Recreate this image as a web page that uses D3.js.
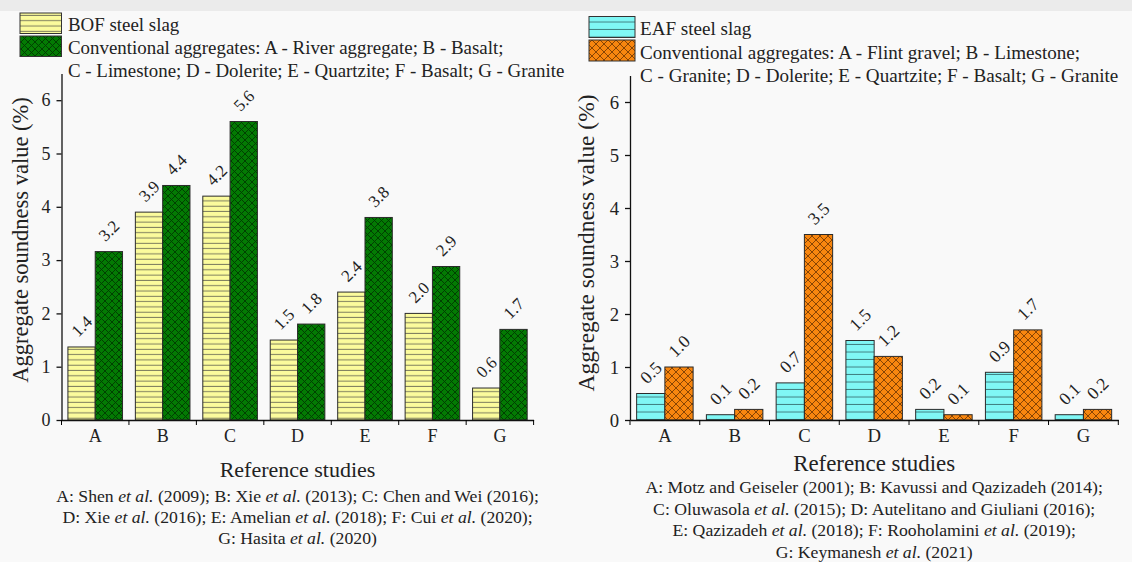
<!DOCTYPE html>
<html>
<head>
<meta charset="utf-8">
<script src="https://cdn.jsdelivr.net/npm/d3@7"></script>
<style>
  body { margin: 0; background: #f9f9f9; }
  svg { display: block; font-family: "Liberation Serif", "Times New Roman", serif; }
</style>
</head>
<body>
<script>
// data
var categories = ["A", "B", "C", "D", "E", "F", "G"];
var yTicks = [0, 1, 2, 3, 4, 5, 6];

var bofSlag = [1.37, 3.9, 4.2, 1.5, 2.4, 2.0, 0.6];
var bofConventional = [3.16, 4.4, 5.6, 1.8, 3.8, 2.88, 1.7];
var eafSlag = [0.5, 0.1, 0.7, 1.5, 0.2, 0.9, 0.1];
var eafConventional = [1.0, 0.2, 3.5, 1.2, 0.1, 1.7, 0.2];

var bofLegend = ["BOF steel slag",
  "Conventional aggregates: A - River aggregate; B - Basalt;",
  "C - Limestone; D - Dolerite; E - Quartzite; F - Basalt; G - Granite"];
var eafLegend = ["EAF steel slag",
  "Conventional aggregates: A - Flint gravel; B - Limestone;",
  "C - Granite; D - Dolerite; E - Quartzite; F - Basalt; G - Granite"];

// *...* = italic
var bofRefs = ["A: Shen *et al.* (2009); B: Xie *et al.* (2013); C: Chen and Wei (2016);",
  "D: Xie *et al.* (2016); E: Amelian *et al.* (2018); F: Cui *et al.* (2020);",
  "G: Hasita *et al.* (2020)"];
var eafRefs = ["A: Motz and Geiseler (2001); B: Kavussi and Qazizadeh (2014);",
  "C: Oluwasola *et al.* (2015); D: Autelitano and Giuliani (2016);",
  "E: Qazizadeh *et al.* (2018); F: Rooholamini *et al.* (2019);",
  "G: Keymanesh *et al.* (2021)"];

var yTitle = "Aggregate soundness value (%)";
var xTitle = "Reference studies";

var width = 1132,
    height = 562;

var svg = d3.select("body").append("svg")
    .attr("width", width)
    .attr("height", height);

svg.append("rect").attr("width", width).attr("height", height).attr("fill", "#f9f9f9");
svg.append("rect").attr("width", width).attr("height", 11).attr("fill", "#ebebeb");

// hatch patterns
var defs = svg.append("defs");

function hLines(id, fill, line, step) {
  var p = defs.append("pattern").attr("id", id)
      .attr("patternUnits", "userSpaceOnUse")
      .attr("width", 10).attr("height", step);
  p.append("rect").attr("width", 10).attr("height", step).attr("fill", fill);
  p.append("line").attr("x1", 0).attr("x2", 10).attr("y1", step - 0.5).attr("y2", step - 0.5)
      .attr("stroke", line).attr("stroke-width", 1);
}
function crossHatch(id, fill, line, step) {
  var p = defs.append("pattern").attr("id", id)
      .attr("patternUnits", "userSpaceOnUse")
      .attr("width", step).attr("height", step);
  p.append("rect").attr("width", step).attr("height", step).attr("fill", fill);
  p.append("path").attr("d", "M0,0L" + step + "," + step + "M" + step + ",0L0," + step)
      .attr("stroke", line).attr("stroke-width", 0.9);
}
hLines("yellowH", "#fbfb9c", "#7d7d5e", 5.3);
crossHatch("greenX", "#037a03", "#013a01", 7);
hLines("cyanH", "#80f7f5", "#3f7f80", 7.5);
crossHatch("orangeX", "#f8860f", "#7a3c02", 8);

function drawPanel(p) {
  var g = svg.append("g");
  var fs = p.fs;

  var x = d3.scaleBand().domain(categories).range([p.left, p.right]).padding(0);
  var x1 = d3.scaleBand().domain([0, 1]).range([0, x.bandwidth()])
      .paddingInner(0).paddingOuter(0.235);
  var y = d3.scaleLinear().domain([0, 6.5]).range([p.base, p.base - 6.5 * p.unit]);

  var series = [p.slag, p.conv];
  var fills = [p.fillSlag, p.fillConv];
  var fmt = d3.format(".1f");

  series.forEach(function (vals, s) {
    g.selectAll(null).data(vals).join("rect")
        .attr("x", (d, i) => x(categories[i]) + x1(s))
        .attr("y", d => y(d))
        .attr("width", x1.bandwidth())
        .attr("height", d => y(0) - y(d))
        .attr("fill", "url(#" + fills[s] + ")")
        .attr("stroke", "#2b2b2b")
        .attr("stroke-width", 1);

    g.selectAll(null).data(vals).join("text")
        .attr("transform", (d, i) => "translate(" + (x(categories[i]) + x1(s) + x1.bandwidth() / 2) +
            "," + (y(d) - 21) + ") rotate(-45)")
        .attr("text-anchor", "middle")
        .attr("dy", "0.35em")
        .attr("font-size", 17 * fs)
        .attr("fill", "#222")
        .text(d => fmt(d));
  });

  // y axis
  var yAxis = g.append("g")
      .attr("transform", "translate(" + p.left + ",0)")
      .call(d3.axisLeft(y).tickValues(yTicks).tickFormat(d3.format("d"))
          .tickSize(5).tickSizeOuter(0).tickPadding(6));
  yAxis.attr("font-family", null).attr("font-size", null);
  yAxis.selectAll("text").attr("font-size", 18 * fs).attr("fill", "#222");

  // x axis: labels centred, ticks on band edges
  var xAxis = g.append("g")
      .attr("transform", "translate(0," + p.base + ")")
      .call(d3.axisBottom(x).tickSize(0).tickSizeOuter(0).tickPadding(9));
  xAxis.attr("font-family", null).attr("font-size", null);
  xAxis.selectAll("text").attr("font-size", 18 * fs).attr("fill", "#222");
  var edges = categories.map(c => x(c)).concat([p.right]);
  xAxis.selectAll(".edge").data(edges).join("line")
      .attr("x1", d => d).attr("x2", d => d)
      .attr("y1", 0).attr("y2", 5)
      .attr("stroke", "#000");

  g.selectAll(".domain, .tick line").attr("stroke", "#111").attr("stroke-width", 1.3);

  // titles
  g.append("text")
      .attr("transform", "translate(" + p.yTitleX + "," + p.yTitleY + ") rotate(-90)")
      .attr("text-anchor", "middle")
      .attr("font-size", 22.5 * fs)
      .attr("fill", "#222")
      .text(yTitle);

  var mid = (p.left + p.right) / 2;
  g.append("text")
      .attr("x", mid).attr("y", p.xTitleY)
      .attr("text-anchor", "middle")
      .attr("font-size", 22 * fs)
      .attr("fill", "#222")
      .text(xTitle);

  g.selectAll(".ref").data(p.refs).join("text")
      .attr("x", mid)
      .attr("y", (d, i) => p.refY + i * p.refStep)
      .attr("text-anchor", "middle")
      .attr("font-size", p.refSize)
      .attr("fill", "#222")
      .each(function (d) {
        var t = d3.select(this);
        d.split("*").forEach(function (part, k) {
          t.append("tspan").attr("font-style", k % 2 ? "italic" : null).text(part);
        });
      });

  // legend
  [p.fillSlag, p.fillConv].forEach(function (f, i) {
    g.append("rect")
        .attr("x", p.legX).attr("y", p.legY + i * p.legStep)
        .attr("width", p.swW).attr("height", p.swH)
        .attr("fill", "url(#" + f + ")")
        .attr("stroke", "#333").attr("stroke-width", 1);
  });
  g.selectAll(".leg").data(p.legend).join("text")
      .attr("x", p.legTextX)
      .attr("y", (d, i) => p.legBase + i * p.legStep)
      .attr("font-size", p.legSize)
      .attr("fill", "#222")
      .text(d => d);
}

drawPanel({
  left: 61.5, right: 533.6, base: 420, unit: 53.3, fs: 1,
  slag: bofSlag, conv: bofConventional, fillSlag: "yellowH", fillConv: "greenX",
  yTitleX: 28, yTitleY: 240, xTitleY: 477,
  refs: bofRefs, refY: 502, refStep: 21, refSize: 17.7,
  legend: bofLegend, legSize: 18.9, legX: 20, legY: 13, legStep: 23, swW: 41.5, swH: 20.5,
  legTextX: 68, legBase: 30.5
});

drawPanel({
  left: 630, right: 1118.3, base: 420, unit: 53, fs: 1.04,
  slag: eafSlag, conv: eafConventional, fillSlag: "cyanH", fillConv: "orangeX",
  yTitleX: 594, yTitleY: 243, xTitleY: 471,
  refs: eafRefs, refY: 493, refStep: 21.7, refSize: 17.7,
  legend: eafLegend, legSize: 19.1, legX: 589, legY: 16.5, legStep: 23.5, swW: 46, swH: 21,
  legTextX: 640, legBase: 35
});
</script>
</body>
</html>
